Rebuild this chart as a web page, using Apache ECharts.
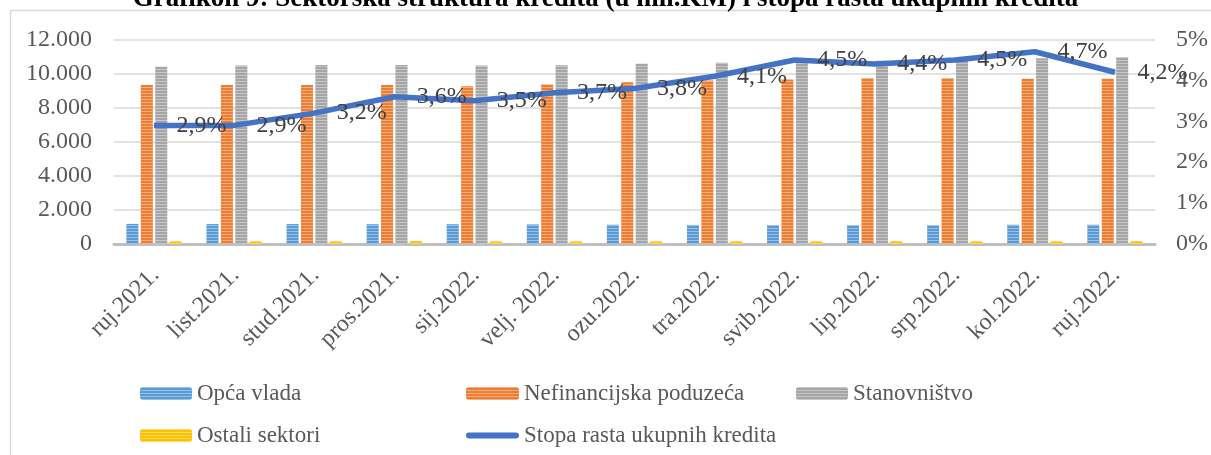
<!DOCTYPE html>
<html>
<head>
<meta charset="utf-8">
<script src="https://cdn.jsdelivr.net/npm/echarts@6/dist/echarts.min.js"></script>
<style>
  html, body { margin: 0; padding: 0; background: #fff; }
  #chart { width: 1211px; height: 455px; }
</style>
</head>
<body>
<div id="chart"></div>
<script>
// mjeseci
const mjeseci = ['ruj.2021.', 'list.2021.', 'stud.2021.', 'pros.2021.', 'sij.2022.', 'velj. 2022.',
  'ozu.2022.', 'tra.2022.', 'svib.2022.', 'lip.2022.', 'srp.2022.', 'kol.2022.', 'ruj.2022.']
// krediti po sektorima (mil. KM)
const opcaVlada = [1180, 1170, 1170, 1160, 1160, 1150, 1130, 1120, 1110, 1100, 1100, 1130, 1130]
const nefinancijska = [9330, 9330, 9330, 9330, 9250, 9360, 9490, 9600, 9660, 9720, 9720, 9700, 9700]
const stanovnistvo = [10400, 10480, 10500, 10500, 10480, 10490, 10570, 10640, 10720, 10760, 10870, 10900, 10960]
const ostali = [150, 150, 150, 170, 150, 150, 150, 150, 150, 160, 150, 150, 160]
// stopa rasta ukupnih kredita (%)
const stopaRasta = [2.9, 2.9, 3.2, 3.6, 3.5, 3.7, 3.8, 4.1, 4.5, 4.4, 4.5, 4.7, 4.2]

const serif = "'Liberation Serif', 'Times New Roman', serif"
const sivo = '#595959'

// vodoravne pruge kao u Excelu
function pruge() {
  return {
    symbol: 'rect',
    symbolSize: 1,
    dashArrayX: [1, 0],
    dashArrayY: [1, 2],
    color: 'rgba(255,255,255,0.38)'
  }
}

function stupac(ime, boja, podaci) {
  return {
    name: ime,
    type: 'bar',
    barGap: '20%',
    barCategoryGap: '31%',
    itemStyle: { color: boja, decal: pruge() },
    data: podaci
  }
}

// oznaka legende za liniju
const ikonaLinije = 'path://M3,0 L49,0 A3,3 0 0 1 49,6 L3,6 A3,3 0 0 1 3,0 Z'

const legendaTekst = { fontFamily: serif, fontSize: 23, lineHeight: 23, color: sivo }

let myChart = echarts.init(document.getElementById('chart'))
let option = {
  animation: false,
  textStyle: { fontFamily: serif },
  title: {
    text: 'Grafikon 9: Sektorska struktura kredita (u mil.KM) i stopa rasta ukupnih kredita',
    left: 'center',
    top: -19,
    textStyle: { fontFamily: serif, fontSize: 27, fontWeight: 'bold', color: '#000' }
  },
  graphic: [{
    type: 'rect',
    shape: { x: 10.5, y: 10.5, width: 1300, height: 600 },
    style: { fill: 'none', stroke: '#D9D9D9', lineWidth: 1.5 },
    silent: true
  }],
  grid: { left: 114, right: 54, top: 39.5, bottom: 211 },
  legend: [
    {
      left: 135, top: 377, orient: 'vertical', itemGap: 19,
      itemWidth: 52, itemHeight: 13,
      textStyle: legendaTekst,
      data: ['Opća vlada', 'Ostali sektori']
    },
    {
      left: 461, top: 377, orient: 'vertical', itemGap: 19,
      itemWidth: 53, itemHeight: 13,
      textStyle: legendaTekst,
      data: ['Nefinancijska poduzeća', { name: 'Stopa rasta ukupnih kredita', icon: ikonaLinije }]
    },
    {
      left: 791, top: 377, orient: 'vertical',
      itemWidth: 52, itemHeight: 13,
      textStyle: legendaTekst,
      data: ['Stanovništvo']
    }
  ],
  xAxis: {
    type: 'category',
    data: mjeseci,
    axisTick: { show: false },
    axisLine: { lineStyle: { color: '#BFBFBF', width: 3 } },
    axisLabel: { rotate: 45, margin: 29, padding: [0, -2, 0, 0], fontFamily: serif, fontSize: 24, color: sivo }
  },
  yAxis: [
    {
      type: 'value',
      min: 0, max: 12000, interval: 2000,
      axisLabel: {
        margin: 22, fontFamily: serif, fontSize: 24, color: sivo,
        formatter: (v) => v >= 1000 ? Math.floor(v / 1000) + '.' + String(v % 1000).padStart(3, '0') : String(v)
      },
      splitLine: { lineStyle: { color: '#D9D9D9', width: 1.5 } }
    },
    {
      type: 'value',
      position: 'right',
      min: 0, max: 5, interval: 1,
      axisLabel: { margin: 21, fontFamily: serif, fontSize: 24, color: sivo, formatter: '{value}%' },
      splitLine: { show: false }
    }
  ],
  series: [
    stupac('Opća vlada', '#5B9BD5', opcaVlada),
    stupac('Nefinancijska poduzeća', '#ED7D31', nefinancijska),
    stupac('Stanovništvo', '#A5A5A5', stanovnistvo),
    stupac('Ostali sektori', '#FFC000', ostali),
    {
      name: 'Stopa rasta ukupnih kredita',
      type: 'line',
      yAxisIndex: 1,
      symbol: 'circle',
      symbolSize: 1,
      showSymbol: true,
      z: 5,
      lineStyle: { color: '#4472C4', width: 5.5 },
      itemStyle: { color: '#4472C4' },
      label: {
        show: true,
        position: 'right',
        distance: 22,
        offset: [0, 3],
        fontFamily: serif,
        fontSize: 24,
        color: '#404040',
        formatter: (p) => p.value.toFixed(1).replace('.', ',') + '%'
      },
      labelLayout: { hideOverlap: false },
      data: stopaRasta
    }
  ]
}
myChart.setOption(option)
</script>
</body>
</html>
